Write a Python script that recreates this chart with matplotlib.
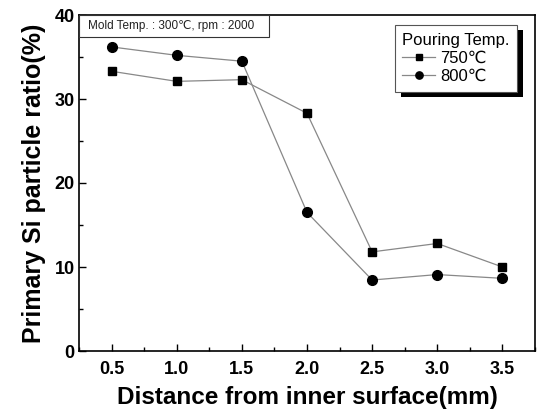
import numpy as np
import matplotlib.pyplot as plt
from matplotlib.patches import Rectangle

plt.rcParams['font.family'] = ['Liberation Sans', 'DejaVu Sans']

distance = [0.5, 1.0, 1.5, 2.0, 2.5, 3.0, 3.5]
ratio_750 = [33.3, 32.1, 32.3, 28.3, 11.8, 12.8, 10.0]
ratio_800 = [36.2, 35.2, 34.5, 16.5, 8.45, 9.1, 8.65]
x_ticks = [0.5, 1.0, 1.5, 2.0, 2.5, 3.0, 3.5]
y_ticks = [0, 10, 20, 30, 40]

fig = plt.figure(figsize=(5.41, 4.12), dpi=100)
ax = fig.add_axes([79/541, 1-351/412, (535-79)/541, (351-15)/412])

ax.plot(distance, ratio_750, color='#888888', lw=0.9, marker='s', ms=6,
        mfc='black', mec='black', label='750\u2103')
ax.plot(distance, ratio_800, color='#888888', lw=0.9, marker='o', ms=7,
        mfc='black', mec='black', label='800\u2103')

ax.set_xlim(0.25, 3.75)
ax.set_ylim(0, 40)
ax.set_xticks(x_ticks)
ax.set_xticklabels(['%.1f' % v for v in x_ticks])
ax.set_yticks(y_ticks)
ax.set_xticks(np.arange(0.25, 3.76, 0.25), minor=True)
ax.set_yticks(np.arange(0, 41, 5), minor=True)
ax.tick_params(which='both', direction='in', labelsize=13, width=1)
ax.tick_params(axis='x', pad=7)
ax.tick_params(axis='y', pad=3)
ax.tick_params(which='major', length=5)
ax.tick_params(which='minor', length=3)
for lbl in ax.get_xticklabels() + ax.get_yticklabels():
    lbl.set_fontweight('bold')
for s in ax.spines.values():
    s.set_linewidth(1.2)

ax.set_xlabel('Distance from inner surface(mm)', fontsize=17.5, fontweight='bold', labelpad=6)
ax.set_ylabel('Primary Si particle ratio(%)', fontsize=18, fontweight='bold', labelpad=6)

# condition box in the top-left corner
ax.add_patch(Rectangle((0.0, 0.934), (269-79)/456, 0.066, transform=ax.transAxes,
                       facecolor='white', edgecolor='#333333', lw=0.8, zorder=5))
ax.text(0.02, 0.967, 'Mold Temp. : 300\u2103, rpm : 2000', transform=ax.transAxes,
        fontsize=8.5, va='center', ha='left', color='#222222', zorder=6)

# legend, shadow drawn by hand
leg = ax.legend(title='Pouring Temp.', loc='upper right', bbox_to_anchor=(517/541, 1-25/412),
                bbox_transform=fig.transFigure, borderaxespad=0, fontsize=12, title_fontsize=12,
                fancybox=False, framealpha=1, edgecolor='#555555', handlelength=2.0,
                handletextpad=0.3, borderpad=0.45, labelspacing=0.2, markerscale=0.75)
leg.get_frame().set_linewidth(0.8)
leg._legend_box.align = 'left'
leg.set_zorder(10)

fig.canvas.draw()
bb = leg.get_window_extent().transformed(fig.transFigure.inverted())
ax.add_artist(Rectangle((bb.x0 + 6/541, bb.y0 - 5/412), bb.width, bb.height,
                        transform=fig.transFigure, facecolor='black', edgecolor='none',
                        zorder=9))

fig.savefig('out.png', dpi=100)
